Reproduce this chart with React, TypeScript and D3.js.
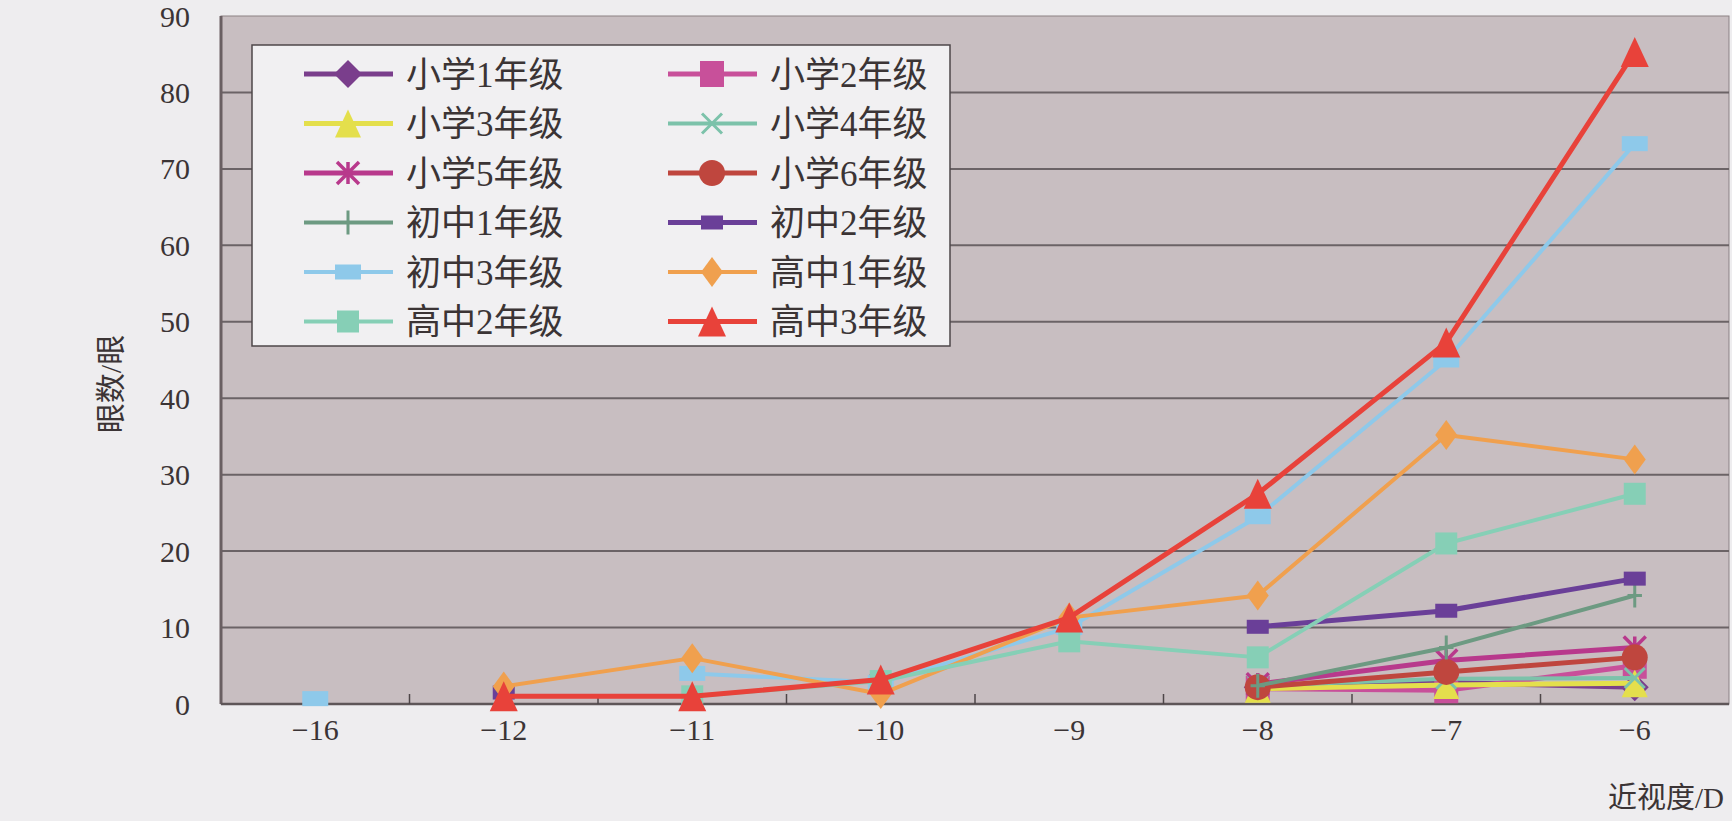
import React from 'react';
import * as d3 from 'd3';

// categories (degree of myopia, D) and tick labels
const categories = ['-16', '-12', '-11', '-10', '-9', '-8', '-7', '-6'];
const tickLabels = ['−16', '−12', '−11', '−10', '−9', '−8', '−7', '−6'];
const yTicks = [0, 10, 20, 30, 40, 50, 60, 70, 80, 90];

const seriesNames = [
  '小学1年级', '小学2年级', '小学3年级', '小学4年级', '小学5年级', '小学6年级',
  '初中1年级', '初中2年级', '初中3年级', '高中1年级', '高中2年级', '高中3年级',
];

// eye counts per category, null = no data
const grade1 = [null, null, null, null, null, 2.2, 2.8, 2.2];
const grade2 = [null, null, null, null, null, 2.0, 1.8, 5.0];
const grade3 = [null, null, null, null, null, 2.0, 2.5, 2.7];
const grade4 = [null, null, null, null, null, 2.4, 3.3, 3.4];
const grade5 = [null, null, null, null, null, 2.6, 5.7, 7.4];
const grade6 = [null, null, null, null, null, 2.2, 4.2, 6.1];
const junior1 = [null, null, null, null, null, 2.4, 7.4, 14.2];
const junior2 = [null, 1.5, null, 3.0, null, 10.1, 12.2, 16.4];
const junior3 = [0.7, null, 4.0, 2.8, 10.0, 24.5, 45.0, 73.3];
const senior1 = [null, 2.3, 6.0, 1.3, 11.3, 14.2, 35.2, 32.0];
const senior2 = [null, null, 1.0, 3.0, 8.2, 6.1, 21.0, 27.5];
const senior3 = [null, 1.0, 1.0, 3.2, 11.3, 27.5, 47.3, 85.3];

const seriesValues = [grade1, grade2, grade3, grade4, grade5, grade6, junior1, junior2, junior3, senior1, senior2, senior3];

type Marker = { shape: string; w: number; h: number };
const styles: { color: string; width: number; marker: Marker }[] = [
  { color: '#7a3e8c', width: 5, marker: { shape: 'diamond', w: 28, h: 28 } },
  { color: '#c8509a', width: 5, marker: { shape: 'square', w: 24, h: 26 } },
  { color: '#e4df4c', width: 5, marker: { shape: 'triangle', w: 26, h: 28 } },
  { color: '#7cc2aa', width: 4, marker: { shape: 'x', w: 20, h: 20 } },
  { color: '#b8398c', width: 5, marker: { shape: 'star', w: 22, h: 22 } },
  { color: '#bf463e', width: 5, marker: { shape: 'circle', w: 26, h: 26 } },
  { color: '#6d9a82', width: 4, marker: { shape: 'plus', w: 4, h: 24 } },
  { color: '#6a3f98', width: 5, marker: { shape: 'square', w: 22, h: 14 } },
  { color: '#8ec9ea', width: 4, marker: { shape: 'square', w: 26, h: 15 } },
  { color: '#f0a04e', width: 4, marker: { shape: 'diamond', w: 22, h: 30 } },
  { color: '#86cfb6', width: 4, marker: { shape: 'square', w: 22, h: 22 } },
  { color: '#e8423a', width: 5, marker: { shape: 'triangle', w: 28, h: 30 } },
];

const W = 1732;
const H = 821;
const margin = { left: 221, right: 3, top: 16, bottom: 117 };
const fontSerif = '"Liberation Serif", "DejaVu Serif", "Noto Sans CJK SC", serif';
const fontCJK = '"Liberation Serif", "Noto Sans CJK SC", serif';

const MarkerShape: React.FC<{ m: Marker; color: string; x: number; y: number }> = ({ m, color, x, y }) => {
  const hw = m.w / 2;
  const hh = m.h / 2;
  const t = `translate(${x},${y})`;
  switch (m.shape) {
    case 'diamond':
      return <path transform={t} d={`M0,${-hh}L${hw},0L0,${hh}L${-hw},0Z`} fill={color} />;
    case 'square':
      return <rect transform={t} x={-hw} y={-hh} width={m.w} height={m.h} fill={color} />;
    case 'triangle':
      return <path transform={t} d={`M0,${-hh}L${hw},${hh}L${-hw},${hh}Z`} fill={color} />;
    case 'circle':
      return <ellipse transform={t} rx={hw} ry={hh} fill={color} />;
    case 'x':
      return (
        <path transform={t} d={`M${-hw},${-hh}L${hw},${hh}M${-hw},${hh}L${hw},${-hh}`}
          stroke={color} strokeWidth={3} fill="none" />
      );
    case 'star':
      return (
        <path transform={t} d={`M${-hw},${-hh}L${hw},${hh}M${-hw},${hh}L${hw},${-hh}M0,${-hh}L0,${hh}`}
          stroke={color} strokeWidth={3.5} fill="none" />
      );
    case 'plus':
      return (
        <path transform={t} d={`M0,${-hh}L0,${hh}M${-hh * 0.6},0L${hh * 0.6},0`}
          stroke={color} strokeWidth={3} fill="none" />
      );
    default:
      return null;
  }
};

const App: React.FC = () => {
  const innerRight = W - margin.right;
  const innerBottom = H - margin.bottom;

  const x = d3.scaleBand().domain(categories).range([margin.left, innerRight]).padding(0);
  const y = d3.scaleLinear().domain([0, 90]).range([innerBottom, margin.top]);
  const cx = (c: string) => (x(c) || 0) + x.bandwidth() / 2;

  const line = d3.line<number | null>()
    .defined(d => d != null)
    .x((_, i) => cx(categories[i]))
    .y(d => y(d as number));

  // legend layout
  const legend = { x: 252, y: 45, w: 698, h: 301 };
  const rowY = (r: number) => legend.y + 29 + r * 49.5;
  const colX = [legend.x + 52, legend.x + 416];

  return (
    <svg width={W} height={H} style={{ position: 'absolute', left: 0, top: 0, background: '#eeedef' }}>
      <rect x={0} y={0} width={W} height={H} fill="#eeedef" />
      {/* plot area */}
      <rect x={margin.left} y={margin.top} width={innerRight - margin.left} height={innerBottom - margin.top}
        fill="#c8bec1" stroke="#8b8184" strokeWidth={1} />
      {yTicks.filter(t => t > 0 && t < 90).map(t => (
        <line key={t} x1={margin.left} x2={innerRight} y1={y(t)} y2={y(t)} stroke="#6b6366" strokeWidth={2} />
      ))}
      <line x1={margin.left} x2={margin.left} y1={margin.top} y2={innerBottom} stroke="#6a5f62" strokeWidth={3} />
      <line x1={margin.left} x2={innerRight} y1={innerBottom} y2={innerBottom} stroke="#5e5658" strokeWidth={2.5} />
      {categories.slice(1).map(c => (
        <line key={c} x1={x(c)} x2={x(c)} y1={innerBottom} y2={innerBottom - 10} stroke="#4e4648" strokeWidth={1.5} />
      ))}

      {/* y tick labels */}
      {yTicks.map(t => (
        <text key={t} x={190} y={y(t)} dy="0.35em" textAnchor="end" fontFamily={fontSerif}
          fontSize={30} fill="#3b3435">{t}</text>
      ))}
      {/* x tick labels */}
      {categories.map((c, i) => (
        <text key={c} x={cx(c)} y={740} textAnchor="middle" fontFamily={fontSerif}
          fontSize={30} fill="#3b3435">{tickLabels[i]}</text>
      ))}
      <text transform={`translate(121,384) rotate(-90)`} textAnchor="middle" fontFamily={fontCJK}
        fontSize={30} fill="#3b3435">眼数/眼</text>
      <text x={1724} y={808} textAnchor="end" fontFamily={fontCJK} fontSize={29} fill="#3b3435">近视度/D</text>

      {/* series */}
      {seriesValues.map((vals, si) => (
        <g key={seriesNames[si]}>
          <path d={line(vals) || ''} fill="none" stroke={styles[si].color} strokeWidth={styles[si].width}
            strokeLinejoin="round" />
          {vals.map((v, i) => v == null ? null : (
            <MarkerShape key={i} m={styles[si].marker} color={styles[si].color} x={cx(categories[i])} y={y(v)} />
          ))}
        </g>
      ))}

      {/* legend */}
      <rect x={legend.x} y={legend.y} width={legend.w} height={legend.h} fill="#f1f0f2" stroke="#4d4749" strokeWidth={1.5} />
      {seriesNames.map((name, si) => {
        const r = Math.floor(si / 2);
        const c = si % 2;
        const lx = colX[c];
        const ly = rowY(r);
        return (
          <g key={name}>
            <line x1={lx} x2={lx + 89} y1={ly} y2={ly} stroke={styles[si].color} strokeWidth={styles[si].width} />
            <MarkerShape m={styles[si].marker} color={styles[si].color} x={lx + 44} y={ly} />
            <text x={lx + 102} y={ly} dy="0.36em" fontFamily={fontCJK} fontSize={35} fill="#3b3435">{name}</text>
          </g>
        );
      })}
    </svg>
  );
};

export default App;
